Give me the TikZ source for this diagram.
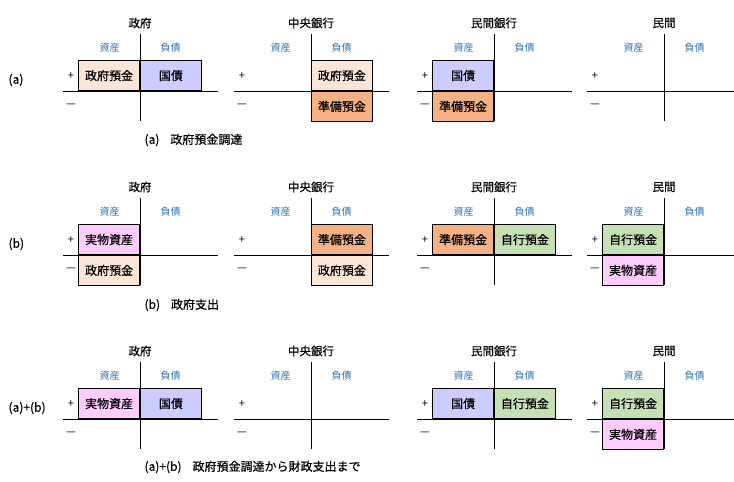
\documentclass[tikz,border=0pt]{standalone}
\usepackage{fontspec}
\setmainfont{Noto Sans CJK JP}[FakeBold=0.5]
\newfontfamily\jplight{Noto Sans CJK JP}
\usetikzlibrary{positioning}
\definecolor{govdep}{HTML}{FBE5D6}
\definecolor{jgb}{HTML}{CCCCFF}
\definecolor{reserve}{HTML}{F4B183}
\definecolor{realasset}{HTML}{FFCCFF}
\definecolor{bankdep}{HTML}{C5E0B4}
\definecolor{sideblue}{HTML}{2E75B6}

\begin{document}
\begin{tikzpicture}[x=1pt,y=-1pt,
  font=\fontsize{12}{14}\selectfont,
  acct/.style={draw,line width=0.8pt,minimum width=61pt,minimum height=30pt,inner sep=0pt},
  side/.style={font=\jplight\fontsize{10}{12}\selectfont,text=sideblue},
  ttl/.style={font=\fontsize{11.5}{13}\selectfont},
  sign/.style={font=\jplight\fontsize{11}{13}\selectfont},
  tline/.style={line width=1pt}]
\useasboundingbox (0,0) rectangle (734,482);
% T-accounts, three rows of four sectors
\foreach \r/\h in {a/91,b/255,c/419}{
  \foreach \v/\nm [count=\i] in {140/政府,311/中央銀行,494/民間銀行,664/民間}{
    \coordinate (\r\i) at (\v,\h);
    \draw[tline] (\v-77,\h) -- ({min(\v+78,734)},\h);
    \draw[tline] (\v,\h-57) -- (\v,\h+30);
    \node[ttl] (\r\i-t) at (\v,\h-68) {\nm};
    \node[side] (\r\i-as) at (\v-30.5,\h-43) {資産};
    \node[side] (\r\i-li) at (\v+30.5,\h-43) {負債};
    \node[sign] (\r\i-p) at (\v-69,\h-15) {+};
    \node[sign] (\r\i-m) at (\v-69,\h+15) {—};
  }
}
% (a) government deposit funding
\node[acct,fill=govdep,above left=0pt of a1] (a1-ap) {政府預金};
\node[acct,fill=jgb,above right=0pt of a1] (a1-lp) {国債};
\node[acct,fill=govdep,above right=0pt of a2] (a2-lp) {政府預金};
\node[acct,fill=reserve,below right=0pt of a2] (a2-lm) {準備預金};
\node[acct,fill=jgb,above left=0pt of a3] (a3-ap) {国債};
\node[acct,fill=reserve,below left=0pt of a3] (a3-am) {準備預金};
% (b) government spending
\node[acct,fill=realasset,above left=0pt of b1] (b1-ap) {実物資産};
\node[acct,fill=govdep,below left=0pt of b1] (b1-am) {政府預金};
\node[acct,fill=reserve,above right=0pt of b2] (b2-lp) {準備預金};
\node[acct,fill=govdep,below right=0pt of b2] (b2-lm) {政府預金};
\node[acct,fill=reserve,above left=0pt of b3] (b3-ap) {準備預金};
\node[acct,fill=bankdep,above right=0pt of b3] (b3-lp) {自行預金};
\node[acct,fill=bankdep,above left=0pt of b4] (b4-ap) {自行預金};
\node[acct,fill=realasset,below left=0pt of b4] (b4-am) {実物資産};
% (a)+(b)
\node[acct,fill=realasset,above left=0pt of c1] (c1-ap) {実物資産};
\node[acct,fill=jgb,above right=0pt of c1] (c1-lp) {国債};
\node[acct,fill=jgb,above left=0pt of c3] (c3-ap) {国債};
\node[acct,fill=bankdep,above right=0pt of c3] (c3-lp) {自行預金};
\node[acct,fill=bankdep,above left=0pt of c4] (c4-ap) {自行預金};
\node[acct,fill=realasset,below left=0pt of c4] (c4-am) {実物資産};
% row labels and captions
\node[anchor=west] (lab-a) at (5,80) {(a)};
\node[anchor=west] (lab-b) at (5,244) {(b)};
\node[anchor=west] (lab-c) at (5,408) {(a)+(b)};
\node[anchor=west] (cap-a) at (141,140) {(a)\hspace{11pt}政府預金調達};
\node[anchor=west] (cap-b) at (141,305) {(b)\hspace{11pt}政府支出};
\node[anchor=west] (cap-c) at (141,467) {(a)+(b)\hspace{11pt}政府預金調達から財政支出まで};
\end{tikzpicture}
\end{document}
